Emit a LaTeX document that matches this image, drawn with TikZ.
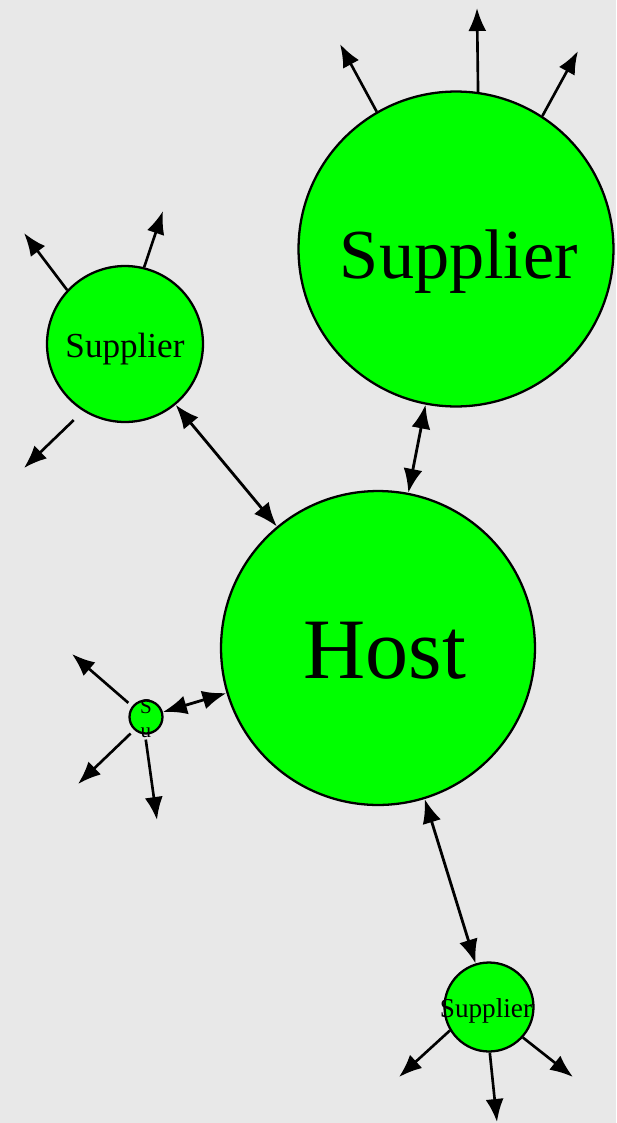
\documentclass[tikz,border=0pt]{standalone}
\usepackage{fontspec}
\setmainfont{Liberation Serif}
\usetikzlibrary{arrows.meta}

\definecolor{bggray}{RGB}{232,232,232}
\definecolor{nodegreen}{RGB}{0,255,0}

\begin{document}
\begin{tikzpicture}[
  x=0.02cm, y=-0.02cm,
  party/.style={circle, draw, fill=nodegreen, line width=1.3pt, inner sep=0pt},
  lbl/.style={inner sep=0pt},
  link/.style={line width=1.6pt, {Latex[length=0.48cm,width=0.38cm]}-{Latex[length=0.48cm,width=0.38cm]}},
  spoke/.style={line width=1.5pt, -{Latex[length=0.46cm,width=0.36cm]}}
]

% background and fixed page size
\fill[bggray] (0,0) rectangle (616,1123);
\useasboundingbox (0,0) rectangle (616,1123);

%================================================
% NODES
%================================================
\node[party, minimum size=6.28cm] (host)   at (378,648)  {};
\node[party, minimum size=6.30cm] (bigsup) at (456,249)  {};
\node[party, minimum size=3.12cm] (leftsup) at (125,344) {};
\node[party, minimum size=0.66cm] (smallsup) at (146,717) {};
\node[party, minimum size=1.78cm] (botsup) at (489,1007) {};

\node[lbl, font=\fontsize{49}{49}\selectfont] (hostlbl) at (385,651) {Host};
\node[lbl, font=\fontsize{40}{40}\selectfont] (bigsuplbl) at (459,262) {Supplier};
\node[lbl, font=\fontsize{20}{20}\selectfont] (leftsuplbl) at (125,349) {Supplier};
\node[lbl, font=\fontsize{15.5}{15.5}\selectfont] (botsuplbl) at (486,1011) {Supplier};
\node[lbl, font=\fontsize{12}{12}\selectfont] (smallsuplblA) at (146,707) {S};
\node[lbl, font=\fontsize{12}{12}\selectfont] (smallsuplblB) at (146,733) {u};

%================================================
% LINKS TO THE HOST
%================================================
\draw[link] (host) -- (bigsup);
\draw[link] (host) -- (leftsup);
\draw[link] (host) -- (smallsup);
\draw[link] (host) -- (botsup);

%================================================
% OUTGOING ARROWS
%================================================
\foreach \ang/\ex/\ey [count=\i] in {120/340/44, 82/477/8, 57/578/51}{
  \coordinate (bigsup-out\i) at (\ex,\ey);
  \draw[spoke] (bigsup.\ang) -- (bigsup-out\i);
}

\foreach \ang/\ex/\ey/\gap [count=\i] in {137/24/233/0, 76/163/211/0, -122/24/468/0.26}{
  \coordinate (leftsup-out\i) at (\ex,\ey);
  \draw[spoke, shorten <=\gap cm] (leftsup.\ang) -- (leftsup-out\i);
}

\foreach \ang/\ex/\ey [count=\i] in {142/72/654, -132/78/784, -93/157/820}{
  \coordinate (smallsup-out\i) at (\ex,\ey);
  \draw[spoke, shorten <=0.1cm] (smallsup.\ang) -- (smallsup-out\i);
}

\foreach \ang/\ex/\ey [count=\i] in {-149/399/1077, -89/497/1122, -42/573/1077}{
  \coordinate (botsup-out\i) at (\ex,\ey);
  \draw[spoke] (botsup.\ang) -- (botsup-out\i);
}

\end{tikzpicture}
\end{document}
